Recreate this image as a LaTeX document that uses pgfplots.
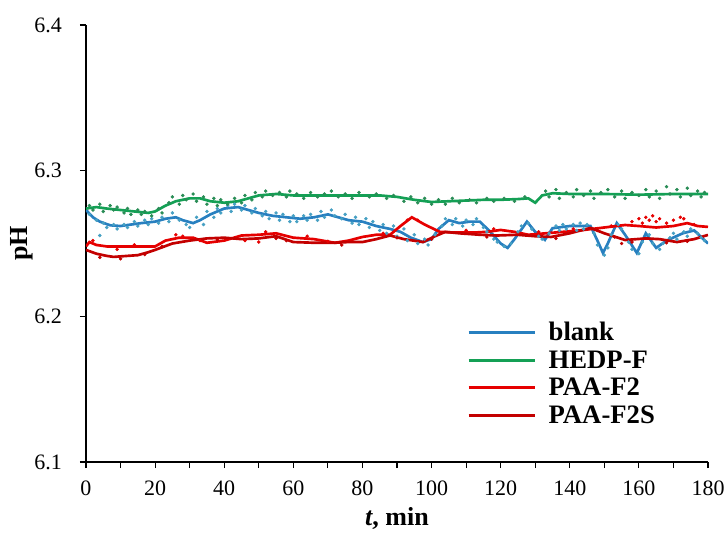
\documentclass[border=0pt]{standalone}
\usepackage{fontspec}
\setmainfont{Liberation Serif}
\usepackage{pgfplots}
\pgfplotsset{compat=1.18}
\definecolor{blline}{RGB}{40,128,192}
\definecolor{bldot}{RGB}{70,160,195}
\definecolor{grline}{RGB}{20,160,85}
\definecolor{grdot}{RGB}{40,140,85}
\definecolor{rdline}{RGB}{230,0,0}
\definecolor{drline}{RGB}{195,0,0}
\begin{document}
\begin{tikzpicture}
\begin{axis}[
  name=ax,
  scale only axis,
  width=466.5pt, height=327.75pt,
  xmin=0, xmax=180, ymin=6.1, ymax=6.4,
  axis lines=left,
  axis line style={-, line width=0.8pt},
  xtick={0,20,...,180},
  minor xtick={10,30,...,170},
  ytick={6.1,6.2,6.3,6.4},
  yticklabels={6.1,6.2,6.3,6.4},
  tick align=outside,
  tick style={black, line width=0.8pt},
  major tick length=4.5pt, minor tick length=4.5pt,
  /pgf/number format/assume math mode=true,
  ticklabel style={font=\fontsize{16.5}{16.5}\selectfont},
  every x tick label/.append style={yshift=-6pt},
  every y tick label/.append style={xshift=-10pt},
  label style={font=\fontsize{19.5}{19.5}\selectfont\bfseries},
  xlabel={\textit{t}, min},
  xlabel style={yshift=-2pt},
  ylabel={pH},
  ylabel style={yshift=-5.5pt},
  legend cell align=left,
  legend style={draw=none, fill=none, at={(0.606,0.071)}, anchor=south west,
    font=\fontsize{20}{20}\selectfont\bfseries, row sep=2pt},
  legend image code/.code={\draw[#1, line width=2.2pt] (0pt,0pt) -- (50pt,0pt); \path (57pt,0pt);},
]
% --- blank dots
\addplot[only marks, mark=*, mark size=1.1pt, bldot, forget plot] coordinates {
(1,6.270)(3,6.266)(4,6.2555)(5,6.264)(6,6.261)(8,6.263)(9,6.260)(11,6.263)(12,6.261)(14,6.265)(15,6.262)(17,6.266)(18,6.263)(19,6.267)(21,6.264)(22,6.268)(24,6.265)(25,6.271)(27,6.266)(29,6.263)(30,6.261)(32,6.268)(34,6.263)(35,6.272)(37,6.268)(38,6.274)(39,6.271)(41,6.276)(42,6.272)(43,6.277)(45,6.273)(46,6.276)(48,6.271)(49,6.274)(51,6.269)(52,6.272)(53,6.267)(55,6.271)(56,6.266)(57,6.270)(59,6.265)(60,6.269)(61,6.265)(63,6.269)(64,6.266)(65,6.270)(67,6.266)(68,6.272)(69,6.268)(71,6.273)(72,6.269)(74,6.267)(75,6.270)(77,6.264)(78,6.268)(79,6.263)(81,6.267)(82,6.261)(83,6.265)(85,6.259)(86,6.263)(87,6.257)(89,6.262)(90,6.255)(92,6.260)(93,6.252)(95,6.256)(96,6.250)(98,6.253)(99,6.249)(101,6.256)(103,6.262)(104,6.267)(106,6.263)(107,6.267)(109,6.262)(110,6.266)(112,6.263)(113,6.267)(115,6.261)(116,6.258)(118,6.253)(119,6.251)(121,6.248)(123,6.250)(125,6.258)(126,6.262)(128,6.264)(129,6.260)(131,6.255)(132,6.253)(134,6.257)(136,6.262)(137,6.259)(138,6.263)(139,6.260)(141,6.263)(142,6.259)(143,6.264)(144,6.260)(145,6.263)(147,6.257)(148,6.249)(150,6.242)(151,6.247)(152,6.256)(154,6.263)(155,6.260)(157,6.251)(158,6.246)(160,6.243)(161,6.251)(163,6.256)(164,6.250)(166,6.246)(167,6.250)(169,6.254)(170,6.257)(171,6.253)(173,6.258)(174,6.255)(175,6.260)(177,6.257)(178,6.254)(179,6.252)
};
% --- HEDP-F dots
\addplot[only marks, mark=*, mark size=1.1pt, grdot, forget plot] coordinates {
(1,6.276)(2,6.273)(4,6.277)(5,6.272)(7,6.276)(8,6.273)(9,6.275)(11,6.271)(12,6.274)(13,6.270)(15,6.273)(16,6.270)(17,6.272)(19,6.269)(21,6.274)(22,6.271)(24,6.278)(25,6.282)(27,6.277)(28,6.283)(29,6.280)(31,6.284)(32,6.279)(34,6.282)(35,6.277)(37,6.281)(38,6.276)(39,6.280)(41,6.277)(43,6.281)(45,6.278)(46,6.283)(48,6.280)(49,6.285)(51,6.282)(52,6.286)(54,6.283)(56,6.285)(58,6.282)(59,6.286)(61,6.284)(63,6.281)(65,6.285)(67,6.282)(69,6.284)(71,6.286)(73,6.282)(75,6.284)(77,6.281)(79,6.285)(82,6.282)(84,6.284)(87,6.281)(89,6.283)(92,6.279)(94,6.282)(96,6.278)(98,6.281)(100,6.277)(102,6.280)(104,6.277)(106,6.281)(108,6.278)(111,6.280)(113,6.278)(116,6.281)(118,6.279)(121,6.281)(124,6.279)(127,6.282)(133,6.286)(134,6.282)(136,6.287)(137,6.281)(139,6.285)(141,6.282)(142,6.287)(144,6.283)(146,6.286)(147,6.281)(149,6.285)(151,6.287)(153,6.282)(155,6.286)(156,6.281)(158,6.285)(160,6.283)(162,6.287)(163,6.282)(165,6.286)(166,6.281)(168,6.289)(169,6.284)(171,6.287)(172,6.282)(174,6.288)(175,6.283)(177,6.286)(178,6.282)(179,6.285)
};
% --- red dots
\addplot[only marks, mark=*, mark size=1.1pt, rdline, forget plot] coordinates {
(2,6.252)(9,6.246)(14,6.249)(26,6.256)(28,6.255)(33,6.252)(46,6.252)(50,6.251)(52,6.258)(64,6.255)(70,6.2515)(86,6.257)(93,6.266)(96,6.266)(110,6.259)(118,6.260)(131,6.258)(141,6.260)(152,6.262)(158,6.265)(160,6.267)(161,6.264)(162,6.268)(163,6.266)(164,6.269)(165,6.265)(166,6.267)(168,6.264)(170,6.266)(172,6.268)(173,6.267)(176,6.263)
};
\addplot[only marks, mark=*, mark size=1.1pt, drline, forget plot] coordinates {
(4,6.2405)(10,6.2395)(17,6.2425)(22,6.248)(38,6.2525)(55,6.2535)(58,6.252)(74,6.249)(90,6.254)(100,6.253)(116,6.2545)(136,6.2535)(148,6.259)(153,6.2545)(158,6.251)(168,6.2505)(174,6.2515)(155,6.250)
};
% --- blank line
\addplot[blline, line width=2pt] coordinates {
(0,6.273)(2,6.268)(4,6.265)(7,6.2625)(10,6.262)(13,6.263)(16,6.264)(20,6.265)(23,6.267)(26,6.268)(28,6.266)(31,6.264)(33,6.266)(36,6.270)(40,6.274)(44,6.275)(47,6.273)(50,6.271)(54,6.269)(58,6.268)(62,6.267)(66,6.268)(70,6.270)(73,6.268)(76,6.266)(80,6.265)(84,6.262)(88,6.260)(91,6.258)(94,6.254)(97.5,6.251)(100,6.253)(102,6.260)(105,6.266)(108,6.264)(111,6.265)(114,6.265)(117,6.258)(120,6.250)(122,6.247)(124,6.253)(127.6,6.265)(130,6.258)(132.8,6.2525)(135,6.2605)(140,6.262)(146,6.262)(148,6.252)(149.6,6.2435)(151,6.250)(153.6,6.264)(156,6.256)(159.4,6.2435)(162,6.257)(165,6.247)(168,6.252)(172.7,6.257)(176,6.259)(180,6.250)
};
\addlegendentry{blank}
% --- HEDP-F line
\addplot[grline, line width=2pt] coordinates {
(0,6.274)(3,6.275)(6,6.274)(10,6.273)(14,6.272)(18,6.271)(20,6.272)(23,6.276)(26,6.279)(30,6.281)(33,6.281)(36,6.279)(40,6.278)(44,6.279)(47,6.281)(50,6.283)(55,6.284)(60,6.283)(70,6.283)(80,6.283)(85,6.283)(90,6.282)(95,6.280)(100,6.2785)(105,6.279)(110,6.2795)(115,6.280)(120,6.280)(125,6.2805)(128,6.281)(130,6.278)(132,6.283)(135,6.2845)(140,6.284)(150,6.284)(160,6.2835)(170,6.284)(180,6.284)
};
\addlegendentry{HEDP-F}
% --- PAA-F2 line
\addplot[rdline, line width=2pt] coordinates {
(0,6.248)(1,6.251)(3,6.249)(6,6.248)(10,6.248)(15,6.248)(20,6.248)(23,6.252)(27,6.254)(31,6.254)(35,6.2505)(40,6.252)(45,6.2555)(50,6.256)(55,6.257)(60,6.254)(66,6.253)(72,6.2505)(76,6.252)(80,6.2545)(84,6.256)(88,6.256)(91,6.262)(94.3,6.268)(98,6.263)(102.4,6.258)(107,6.2575)(112,6.2575)(116,6.258)(120,6.2593)(124,6.258)(128,6.256)(133,6.257)(138,6.258)(143,6.259)(150,6.261)(156,6.2627)(160,6.262)(165,6.261)(170,6.262)(174,6.264)(177,6.262)(180,6.2614)
};
\addlegendentry{PAA-F2}
% --- PAA-F2S line
\addplot[drline, line width=2pt] coordinates {
(0,6.2456)(3,6.243)(6,6.2415)(8,6.2408)(12,6.2415)(15,6.242)(18,6.244)(20,6.2456)(25,6.250)(30,6.252)(35,6.2535)(40,6.254)(45,6.253)(50,6.2535)(55,6.255)(60,6.251)(66,6.2505)(72,6.2505)(76,6.251)(80,6.251)(84,6.253)(88,6.2555)(92,6.253)(97.5,6.251)(101,6.255)(104,6.258)(108,6.257)(114,6.256)(119,6.2555)(124.8,6.256)(130,6.255)(134.6,6.2545)(140,6.257)(146,6.2607)(150,6.257)(156,6.2524)(162,6.2535)(166,6.253)(171,6.251)(176,6.253)(180,6.2559)
};
\addlegendentry{PAA-F2S}
\end{axis}
\pgfresetboundingbox
\path[use as bounding box] ([shift={(-64.5pt,-53.25pt)}]ax.south west) rectangle ([shift={(13.5pt,18.75pt)}]ax.north east);
\end{tikzpicture}
\end{document}
